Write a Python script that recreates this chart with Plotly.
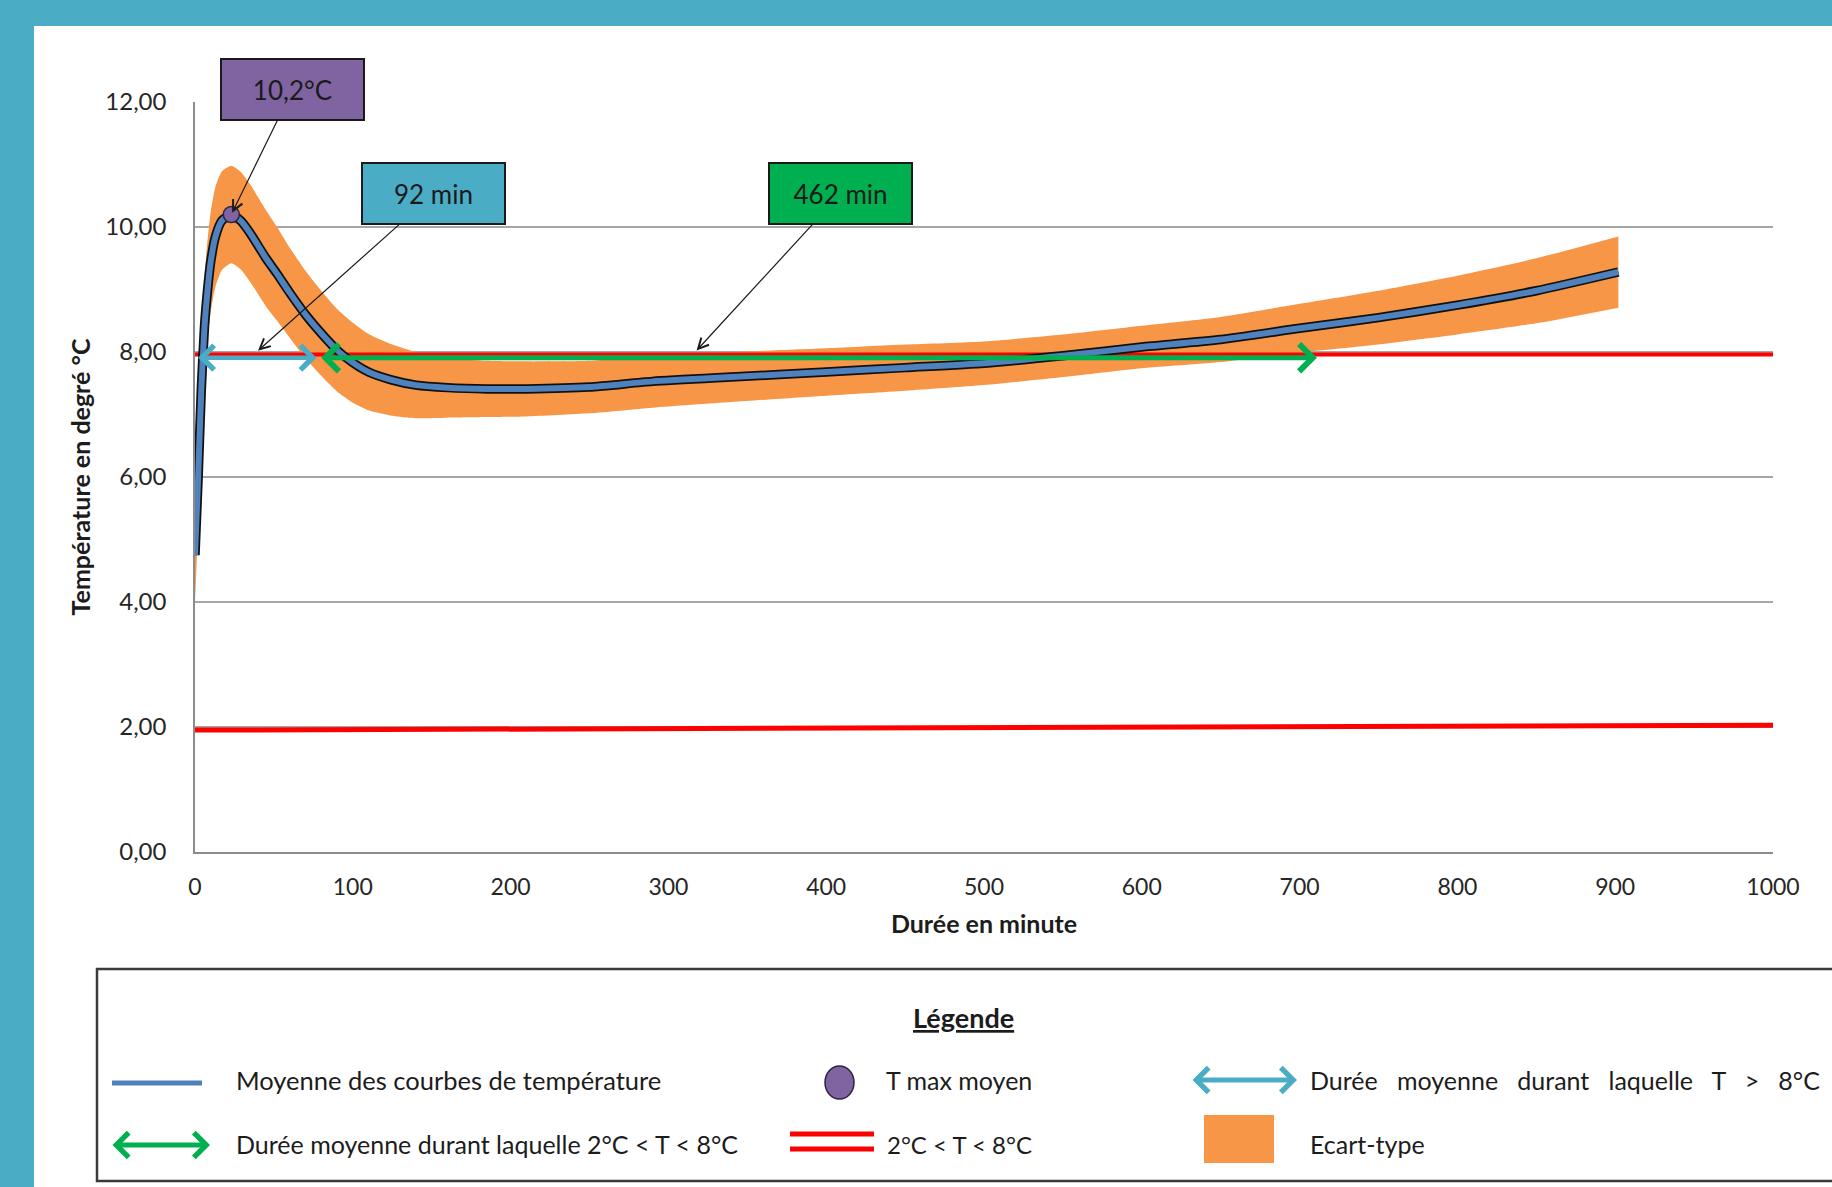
import plotly.graph_objects as go

# ---- data -------------------------------------------------------------
time_min = [0, 2, 4, 6, 8, 10, 13, 17, 23, 29, 35, 45, 52, 60, 70, 80, 90,
            100, 110, 125, 140, 160, 185, 210, 250, 290, 340, 400, 450, 500,
            550, 600, 650, 700, 750, 800, 850, 902]
mean_temp = [4.75, 6.0, 7.4, 8.4, 9.0, 9.45, 9.85, 10.1, 10.2, 10.1, 9.9,
             9.5, 9.25, 8.95, 8.6, 8.3, 8.03, 7.83, 7.68, 7.55, 7.47, 7.43,
             7.41, 7.41, 7.44, 7.53, 7.6, 7.68, 7.75, 7.82, 7.94, 8.08, 8.2,
             8.38, 8.55, 8.75, 8.98, 9.28]
std_temp = [0.75, 0.78, 0.8, 0.8, 0.8, 0.8, 0.8, 0.79, 0.78, 0.78, 0.78,
            0.77, 0.75, 0.72, 0.7, 0.68, 0.66, 0.64, 0.61, 0.57, 0.53, 0.48,
            0.45, 0.44, 0.42, 0.42, 0.4, 0.38, 0.37, 0.35, 0.34, 0.34, 0.36,
            0.39, 0.43, 0.47, 0.52, 0.57]

tmax_time = 23
tmax_temp = 10.2

# threshold lines (2 °C and 8 °C)
low_limit_x = [-5, 1008]
low_limit_y = [1.95, 2.03]
high_limit_x = [-5, 1000]
high_limit_y = [7.96, 7.96]

# duration arrows (start, end in minutes) and their level
above8_span = [1, 77]
between_span = [79, 711]
arrow_level = 7.91

label_above8 = "92 min"
label_between = "462 min"

x_ticks = [0, 100, 200, 300, 400, 500, 600, 700, 800, 900, 1000]
y_ticks = [0, 2, 4, 6, 8, 10, 12]

# ---- geometry (pixels) ------------------------------------------------
W, H = 1832, 1187
PL, PR, PT, PB = 195, 1773, 102, 852


def fx(px):
    return (px - PL) / (PR - PL)


def fy(py):
    return (PB - py) / (PB - PT)


FONT = "Lato, 'Open Sans', sans-serif"
TEAL = "#4BACC6"
GREEN = "#00B050"
PURPLE = "#8064A2"
ORANGE = "#F79646"
BLUE = "#4F81BD"
RED = "#FF0000"
TXT = "#1c1c1c"

lower = [m - s for m, s in zip(mean_temp, std_temp)]
upper = [m + s for m, s in zip(mean_temp, std_temp)]

fig = go.Figure()

# standard deviation band
fig.add_trace(go.Scatter(x=time_min, y=lower, mode="lines",
                         line=dict(width=0, shape="spline", smoothing=0.6),
                         hoverinfo="skip", showlegend=False))
fig.add_trace(go.Scatter(x=time_min, y=upper, mode="lines", fill="tonexty",
                         fillcolor=ORANGE,
                         line=dict(width=0, shape="spline", smoothing=0.6),
                         hoverinfo="skip", showlegend=False))

# 2 °C and 8 °C limits
fig.add_trace(go.Scatter(x=low_limit_x, y=low_limit_y, mode="lines",
                         line=dict(color=RED, width=5), showlegend=False))
fig.add_trace(go.Scatter(x=high_limit_x, y=high_limit_y, mode="lines",
                         line=dict(color=RED, width=4), showlegend=False))

# mean curve: dark outline under a blue line
fig.add_trace(go.Scatter(x=time_min, y=mean_temp, mode="lines",
                         line=dict(color="#111111", width=9.5, shape="spline",
                                   smoothing=0.6),
                         hoverinfo="skip", showlegend=False))
fig.add_trace(go.Scatter(x=time_min, y=mean_temp, mode="lines",
                         line=dict(color=BLUE, width=6, shape="spline",
                                   smoothing=0.6),
                         showlegend=False))

# mean maximum temperature
fig.add_trace(go.Scatter(x=[tmax_time], y=[tmax_temp], mode="markers",
                         marker=dict(size=16, color=PURPLE,
                                     line=dict(color="#2E2440", width=1.5)),
                         showlegend=False))

annotations = []


def double_arrow(x0, x1, y, color, xref="x", yref="y", width=4.5):
    return dict(x=x1, y=y, ax=x0, ay=y, xref=xref, yref=yref,
                axref=xref, ayref=yref, text="", showarrow=True,
                arrowside="end+start", arrowhead=4, startarrowhead=4,
                arrowsize=1.05, startarrowsize=1.05, arrowwidth=width,
                arrowcolor=color, standoff=0, startstandoff=0)


annotations.append(double_arrow(above8_span[0], above8_span[1], arrow_level, TEAL))
annotations.append(double_arrow(between_span[0], between_span[1], arrow_level, GREEN, width=5))


def callout(text, x, y, bx, by, color):
    return dict(x=x, y=y, ax=bx, ay=by, xref="x", yref="y", axref="x",
                ayref="y", text=text, showarrow=True, arrowhead=5,
                arrowsize=1.7, arrowwidth=1.2, arrowcolor="#1a1a1a",
                bgcolor=color, bordercolor="#1a1a1a", borderwidth=2,
                width=139, height=57, font=dict(family=FONT, size=26,
                                                color="#1a1a1a"),
                standoff=2)


tmax_label = ("%.1f" % tmax_temp).replace(".", ",") + "°C"
annotations.append(callout(tmax_label, tmax_time, tmax_temp, 61.8, 12.2, PURPLE))
annotations.append(callout(label_above8, 39, 8.0, 151.1, 10.53, TEAL))
annotations.append(callout(label_between, 317, 8.0, 409.1, 10.53, GREEN))

# ---- legend panel -----------------------------------------------------
shapes = [
    # white page over the teal frame
    dict(type="rect", xref="paper", yref="paper", x0=fx(34), x1=fx(1850),
         y0=fy(26), y1=fy(1200), fillcolor="white", line=dict(width=0),
         layer="below"),
    # legend frame
    dict(type="rect", xref="paper", yref="paper", x0=fx(97), x1=fx(1850),
         y0=fy(969), y1=fy(1181), fillcolor="rgba(0,0,0,0)",
         line=dict(color="#3a3a3a", width=2.5)),
    # mean curve sample
    dict(type="line", xref="paper", yref="paper", x0=fx(112), x1=fx(202),
         y0=fy(1083), y1=fy(1083), line=dict(color=BLUE, width=5)),
    # Tmax sample
    dict(type="circle", xref="paper", yref="paper", x0=fx(825), x1=fx(854),
         y0=fy(1066), y1=fy(1099), fillcolor=PURPLE,
         line=dict(color="#2E2440", width=1.5)),
    # limit lines sample
    dict(type="line", xref="paper", yref="paper", x0=fx(790), x1=fx(874),
         y0=fy(1134), y1=fy(1134), line=dict(color=RED, width=5)),
    dict(type="line", xref="paper", yref="paper", x0=fx(790), x1=fx(874),
         y0=fy(1149), y1=fy(1149), line=dict(color=RED, width=5)),
    # standard deviation sample
    dict(type="rect", xref="paper", yref="paper", x0=fx(1204), x1=fx(1274),
         y0=fy(1115), y1=fy(1163), fillcolor=ORANGE, line=dict(width=0)),
]


def legend_arrow(px0, px1, py, color):
    return dict(x=fx(px1), y=fy(py), xref="paper", yref="paper",
                ax=-(px1 - px0), ay=0, axref="pixel", ayref="pixel",
                text="", showarrow=True, arrowside="end+start",
                arrowhead=4, startarrowhead=4, arrowsize=0.95,
                startarrowsize=0.95, arrowwidth=5, arrowcolor=color,
                standoff=0, startstandoff=0)


annotations.append(legend_arrow(1191, 1297, 1080, TEAL))
annotations.append(legend_arrow(111, 210, 1145, GREEN))


def legend_text(text, px, py, size=25, **kw):
    d = dict(x=fx(px), y=fy(py), xref="paper", yref="paper", text=text,
             showarrow=False, xanchor="left", yanchor="middle",
             font=dict(family=FONT, size=size, color=TXT))
    d.update(kw)
    return d


nb = "\u00a0"
annotations += [
    dict(x=fx(963), y=fy(1017), xref="paper", yref="paper",
         text="<b><u>Légende</u></b>", showarrow=False, xanchor="center",
         yanchor="middle", font=dict(family=FONT, size=27, color=TXT)),
    legend_text("Moyenne des courbes de température", 234, 1080, size=25.5),
    legend_text("T max moyen", 884, 1080),
    legend_text(("Durée moyenne durant laquelle T > 8°C").replace(" ", nb * 3),
                1308, 1080),
    legend_text("Durée moyenne durant laquelle 2°C < T < 8°C", 234, 1144),
    legend_text("2°C < T < 8°C", 885, 1144, size=24),
    legend_text("Ecart-type", 1308, 1144),
]

fig.update_layout(
    width=W, height=H,
    margin=dict(l=PL, r=W - PR, t=PT, b=H - PB, pad=0),
    paper_bgcolor=TEAL, plot_bgcolor="white",
    separators=", ",
    font=dict(family=FONT, color="#262626"),
    showlegend=False,
    shapes=shapes,
    annotations=annotations,
    xaxis=dict(range=[0, 1000], tickvals=x_ticks, showgrid=False,
               zeroline=False, showline=True, linecolor="#8c8c8c",
               linewidth=1.5, ticks="", tickfont=dict(size=23),
               ticklabelstandoff=14,
               title=dict(text="<b>Durée en minute</b>",
                          font=dict(size=25, color=TXT), standoff=16)),
    yaxis=dict(range=[0, 12], tickvals=y_ticks, tickformat=".2f",
               showgrid=True, gridcolor="#a6a6a6", gridwidth=1.5,
               zeroline=False, showline=True, linecolor="#8c8c8c",
               linewidth=1.5, ticks="", tickfont=dict(size=24),
               ticklabelstandoff=22,
               title=dict(text="<b>Température en degré °C</b>",
                          font=dict(size=25, color=TXT), standoff=8)),
)

fig.write_html("out.html")
